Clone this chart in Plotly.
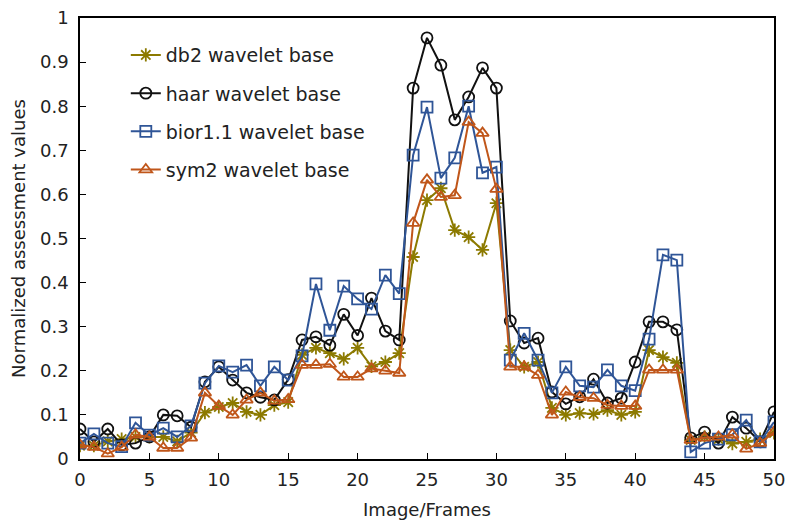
import plotly.graph_objects as go

frames = list(range(51))

db2 = [0.03, 0.03, 0.04, 0.045, 0.05, 0.05, 0.05, 0.04, 0.06, 0.105,
       0.118, 0.127, 0.107, 0.10, 0.122, 0.129, 0.236, 0.252, 0.24, 0.227,
       0.252, 0.21, 0.22, 0.24, 0.458, 0.587, 0.614, 0.519, 0.503, 0.474,
       0.58, 0.247, 0.209, 0.22, 0.116, 0.10, 0.104, 0.102, 0.111, 0.10,
       0.107, 0.247, 0.231, 0.218, 0.043, 0.05, 0.045, 0.035, 0.039, 0.045,
       0.059]
haar = [0.068, 0.039, 0.068, 0.032, 0.036, 0.05, 0.10, 0.098, 0.072, 0.175,
        0.209, 0.179, 0.15, 0.14, 0.134, 0.18, 0.27, 0.277, 0.258, 0.328,
        0.28, 0.365, 0.29, 0.27, 0.841, 0.955, 0.893, 0.769, 0.821, 0.887,
        0.841, 0.313, 0.263, 0.274, 0.152, 0.125, 0.141, 0.181, 0.127, 0.138,
        0.22, 0.311, 0.311, 0.293, 0.048, 0.061, 0.036, 0.095, 0.07, 0.039,
        0.107]
bior = [0.036, 0.057, 0.036, 0.028, 0.082, 0.054, 0.07, 0.05, 0.075, 0.172,
        0.211, 0.197, 0.213, 0.166, 0.209, 0.179, 0.234, 0.397, 0.292, 0.392,
        0.363, 0.34, 0.417, 0.375, 0.689, 0.798, 0.637, 0.683, 0.80, 0.649,
        0.662, 0.224, 0.285, 0.224, 0.15, 0.209, 0.166, 0.163, 0.202, 0.166,
        0.155, 0.272, 0.463, 0.451, 0.016, 0.036, 0.045, 0.055, 0.088, 0.039,
        0.084]
sym2 = [0.032, 0.027, 0.012, 0.027, 0.055, 0.05, 0.025, 0.025, 0.048, 0.15,
        0.12, 0.10, 0.134, 0.15, 0.132, 0.135, 0.213, 0.213, 0.215, 0.186,
        0.186, 0.205, 0.20, 0.195, 0.535, 0.633, 0.594, 0.598, 0.764, 0.739,
        0.612, 0.209, 0.209, 0.19, 0.10, 0.152, 0.14, 0.138, 0.122, 0.12,
        0.12, 0.202, 0.202, 0.202, 0.043, 0.048, 0.05, 0.055, 0.023, 0.036,
        0.061]

series = [
    ("db2 wavelet base", db2, "#8C7A00", "asterisk-open"),
    ("haar wavelet base", haar, "#111111", "circle-open"),
    ("bior1.1 wavelet base", bior, "#2F5597", "square-open"),
    ("sym2 wavelet base", sym2, "#C0561A", "triangle-up-open"),
]

fig = go.Figure()
for name, vals, color, sym in series:
    fig.add_trace(go.Scatter(
        x=frames, y=vals, name=name, mode="lines+markers",
        legendgroup=name,
        line=dict(color=color, width=2),
        marker=dict(symbol=sym, size=11, color=color,
                    line=dict(color=color, width=1.8)),
    ))

txt = "#222222"
fig.update_layout(
    width=787, height=523,
    margin=dict(l=80, r=13, t=18, b=64),
    paper_bgcolor="white", plot_bgcolor="white",
    font=dict(family="DejaVu Sans", size=17, color=txt),
    showlegend=True,
    legend=dict(x=0.066, y=0.959, xanchor="left", yanchor="top",
                bgcolor="rgba(0,0,0,0)", traceorder="grouped",
                tracegroupgap=10.5, font=dict(family="DejaVu Sans", size=19, color=txt)),
    xaxis=dict(range=[0, 50], dtick=5, tick0=0, ticks="inside", ticklen=6,
               tickcolor="black", showline=True, linecolor="black", linewidth=1.5,
               mirror=True, showgrid=False, zeroline=False, automargin=False,
               tickfont=dict(size=18), ticklabelstandoff=4,
               title=dict(text="Image/Frames", standoff=14,
                          font=dict(family="DejaVu Sans", size=18, color=txt))),
    yaxis=dict(range=[0, 1], dtick=0.1, tick0=0, ticks="inside", ticklen=6,
               tickcolor="black", showline=True, linecolor="black", linewidth=1.5,
               mirror=True, showgrid=False, zeroline=False, automargin=False,
               tickfont=dict(size=18), ticklabelstandoff=6,
               title=dict(text="Normalized assessment values", standoff=10,
                          font=dict(family="DejaVu Sans", size=18, color=txt))),
)

fig.write_html("out.html")
